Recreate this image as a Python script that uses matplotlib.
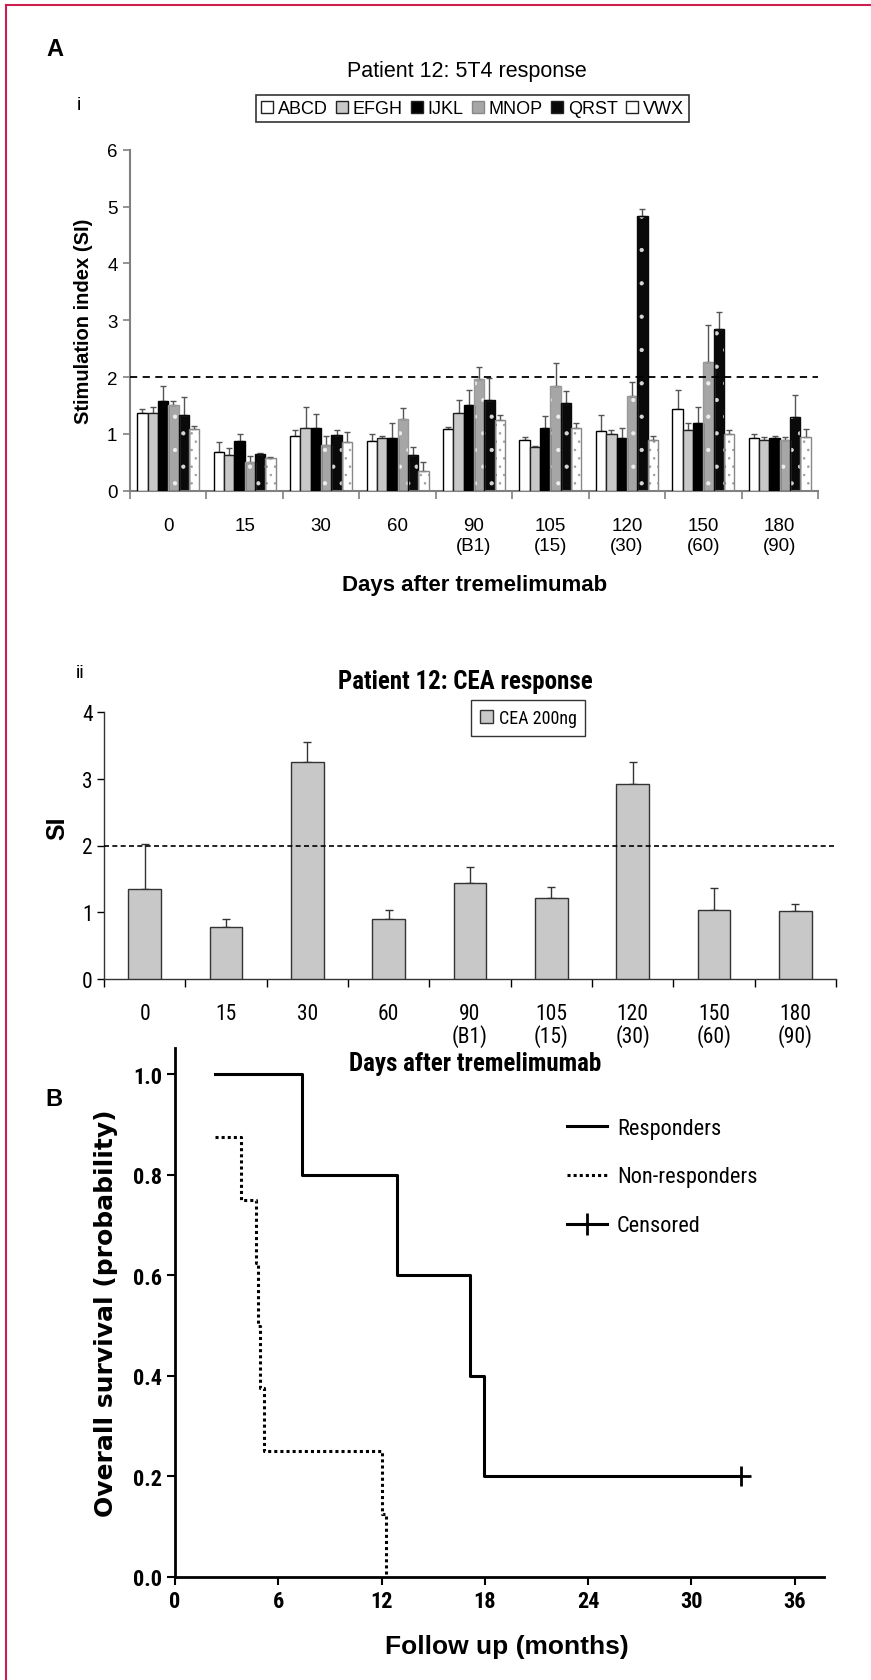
import matplotlib
matplotlib.use("Agg")
import matplotlib.pyplot as plt
import numpy as np
from matplotlib.patches import Patch
from matplotlib.lines import Line2D
from matplotlib import font_manager as fm

# ---------------- data ----------------
days = ["0", "15", "30", "60", "90\n(B1)", "105\n(15)", "120\n(30)", "150\n(60)", "180\n(90)"]
series_names = ["ABCD", "EFGH", "IJKL", "MNOP", "QRST", "VWX"]
abcd = [1.36, 0.68, 0.97, 0.87, 1.08, 0.89, 1.05, 1.44, 0.93]
efgh = [1.36, 0.63, 1.11, 0.93, 1.36, 0.77, 0.99, 1.06, 0.90]
ijkl = [1.57, 0.87, 1.11, 0.93, 1.51, 1.10, 0.92, 1.19, 0.92]
mnop = [1.50, 0.51, 0.81, 1.26, 1.97, 1.84, 1.67, 2.27, 0.89]
qrst = [1.34, 0.64, 0.98, 0.62, 1.60, 1.54, 4.84, 2.84, 1.30]
vwx = [1.09, 0.58, 0.85, 0.35, 1.25, 1.11, 0.89, 0.99, 0.95]
abcd_err = [0.07, 0.17, 0.09, 0.12, 0.04, 0.06, 0.28, 0.33, 0.06]
efgh_err = [0.11, 0.13, 0.36, 0.03, 0.23, 0.02, 0.08, 0.14, 0.05]
ijkl_err = [0.27, 0.12, 0.24, 0.26, 0.27, 0.21, 0.18, 0.28, 0.05]
mnop_err = [0.08, 0.10, 0.15, 0.20, 0.20, 0.41, 0.24, 0.65, 0.05]
qrst_err = [0.31, 0.02, 0.09, 0.15, 0.38, 0.21, 0.12, 0.31, 0.39]
vwx_err = [0.05, 0.01, 0.18, 0.16, 0.09, 0.09, 0.08, 0.08, 0.13]

cea = [1.35, 0.78, 3.245, 0.90, 1.435, 1.21, 2.92, 1.04, 1.02]
cea_err = [0.67, 0.12, 0.30, 0.14, 0.24, 0.17, 0.325, 0.325, 0.105]

resp_t = [2.3, 7.35, 12.9, 17.15, 17.95, 32.9]
resp_s = [1.0, 0.8, 0.6, 0.4, 0.2, 0.2]
nonresp_t = [2.3, 3.85, 4.7, 4.8, 4.95, 5.15, 12.05, 12.25]
nonresp_s = [0.875, 0.75, 0.625, 0.5, 0.375, 0.25, 0.125, 0.0]
censor_t = [32.9]
censor_s = [0.2]

# ---------------- fonts ----------------
plt.rcParams['font.family'] = ['Liberation Sans', 'DejaVu Sans']
plt.rcParams['hatch.linewidth'] = 0.6

_narrow = None
_prio = ['Liberation Sans Narrow', 'Arial Narrow', 'Roboto Condensed', 'Open Sans Condensed',
         'Noto Sans Condensed', 'DejaVu Sans Condensed']
_names = {f.name for f in fm.fontManager.ttflist}
for c in _prio:
    if c in _names:
        _narrow = dict(family=[c, 'DejaVu Sans'], stretch='normal')
        break
if _narrow is None:
    for pref in ['Roboto', 'Noto Sans', 'Open Sans', 'DejaVu Sans']:
        hits = [f for f in fm.fontManager.ttflist if f.name == pref and
                str(f.stretch) in ('condensed', 'semi-condensed', '87.5', '75')]
        if hits:
            _narrow = dict(family=[pref, 'DejaVu Sans'], stretch=hits[0].stretch)
            break
HAVE_NARROW = _narrow is not None
if not HAVE_NARROW:
    _narrow = dict(family=['Liberation Sans', 'DejaVu Sans'], stretch='normal')
NS = 1.0 if HAVE_NARROW else 0.88   # size factor for narrow texts


def nkw(size, weight='normal'):
    return dict(family=_narrow['family'], fontstretch=_narrow['stretch'],
                fontsize=size * NS, fontweight=weight)


def nprop(size, weight='normal'):
    return fm.FontProperties(family=_narrow['family'], stretch=_narrow['stretch'],
                             size=size * NS, weight=weight)


# ---------------- figure ----------------
W, H = 871, 1681
fig = plt.figure(figsize=(W / 100, H / 100), dpi=100)


def ax_px(l, t, r, b):
    return fig.add_axes([l / W, 1 - b / H, (r - l) / W, (b - t) / H])


# border
fig.add_artist(Line2D([6 / W, 6 / W], [0, 1 - 6 / H], color='#cc1f4f', lw=1.5))
fig.add_artist(Line2D([6 / W, 1], [1 - 6 / H, 1 - 6 / H], color='#cc1f4f', lw=1.5))

fig.text(55 / W, 1 - 50 / H, "A", fontsize=17, fontweight='bold', ha='center', va='center')
fig.text(79 / W, 1 - 106 / H, "i", fontsize=14, ha='center', va='center')
fig.text(467 / W, 1 - 72 / H, "Patient 12: 5T4 response", fontsize=15.5, ha='center', va='center')

# ---------------- panel A i ----------------
ax1 = ax_px(130, 150.7, 818, 491.7)
x = np.arange(len(days))
w = 0.135
vals = [abcd, efgh, ijkl, mnop, qrst, vwx]
errs = [abcd_err, efgh_err, ijkl_err, mnop_err, qrst_err, vwx_err]
styles = [
    dict(face='white', edge='black', hatch=None, hcol=None),
    dict(face='#c8c8c8', edge='#222222', hatch=None, hcol=None),
    dict(face='black', edge='black', hatch=None, hcol=None),
    dict(face='#a6a6a6', edge='#9a9a9a', hatch='.', hcol='#eeeeee'),
    dict(face='#0a0a0a', edge='#0a0a0a', hatch='.', hcol='#d8d8d8'),
    dict(face='white', edge='#888888', hatch='..', hcol='#a0a0a0'),
]
handles = []
for k, (v, e, st) in enumerate(zip(vals, errs, styles)):
    pos = x + (k - 2.5) * w
    if st['hatch']:
        ax1.bar(pos, v, w, color=st['face'], edgecolor=st['hcol'], hatch=st['hatch'], lw=0, zorder=2)
        ax1.bar(pos, v, w, fill=False, edgecolor=st['edge'], lw=1.0, zorder=3)
    else:
        ax1.bar(pos, v, w, color=st['face'], edgecolor=st['edge'], lw=1.0, zorder=3)
    ax1.errorbar(pos, v, yerr=[np.zeros(len(v)), e], fmt='none', ecolor='#555555',
                 elinewidth=1.0, capsize=2.5, capthick=1.0, zorder=2)
    handles.append(Patch(facecolor=st['face'], edgecolor='#222222' if k != 3 else '#888888', lw=1.0))

ax1.axhline(2, color='black', ls=(0, (4, 3)), lw=1.3, zorder=4)
ax1.set_xlim(-0.5, len(days) - 0.5)
ax1.set_ylim(0, 6)
for s in ['top', 'right']:
    ax1.spines[s].set_visible(False)
for s in ['left', 'bottom']:
    ax1.spines[s].set_color('#808080')
    ax1.spines[s].set_linewidth(1.5)
ax1.set_yticks(range(0, 7))
ax1.tick_params(axis='y', direction='out', length=5, width=1.2, color='#808080', labelsize=13.5, pad=4)
ax1.set_xticks(x)
ax1.set_xticklabels(days, fontsize=13.5, linespacing=1.2)
ax1.set_xticks(np.arange(-0.5, len(days)), minor=True)
ax1.tick_params(axis='x', which='major', length=0, pad=19)
ax1.tick_params(axis='x', which='minor', length=6, width=1.2, color='#808080')
ax1.set_ylabel("Stimulation index (SI)", fontsize=14.5, fontweight='bold', labelpad=10)
fig.text(475 / W, 1 - 585 / H, "Days after tremelimumab", fontsize=16, fontweight='bold',
         ha='center', va='center')

leg = fig.legend(handles, series_names, loc='center', bbox_to_anchor=(472.5 / W, 1 - 109.5 / H),
                 ncol=6, fontsize=13, frameon=True, fancybox=False, handlelength=0.65,
                 handleheight=0.65, handletextpad=0.28, columnspacing=0.45, borderpad=0.3,
                 borderaxespad=0)
leg.get_frame().set_edgecolor('black')
leg.get_frame().set_linewidth(1.2)

# ---------------- panel A ii ----------------
fig.text(80 / W, 1 - 674 / H, "ii", fontsize=14, ha='center', va='center')
fig.text(465 / W, 1 - 682 / H, "Patient 12: CEA response", ha='center', va='center',
         **nkw(18, 'bold'))
ax2 = ax_px(104, 713, 836, 980)
ax2.bar(x, cea, 0.4, color='#c8c8c8', edgecolor='#333333', lw=1.0, zorder=3, label="CEA 200ng")
ax2.errorbar(x, cea, yerr=[np.zeros(len(cea)), cea_err], fmt='none', ecolor='#333333',
             elinewidth=1.0, capsize=3, capthick=1.0, zorder=2)
ax2.axhline(2, color='black', ls=(0, (3, 2)), lw=1.2, zorder=4)
ax2.set_xlim(-0.5, len(days) - 0.5)
ax2.set_ylim(0, 4)
for s in ['top', 'right']:
    ax2.spines[s].set_visible(False)
for s in ['left', 'bottom']:
    ax2.spines[s].set_color('#333333')
    ax2.spines[s].set_linewidth(1.0)
ax2.set_yticks(range(0, 5))
ax2.tick_params(axis='y', direction='out', length=5, width=1.0, pad=3)
ax2.set_xticks(x)
ax2.set_xticklabels(days, linespacing=1.0)
for lab in ax2.get_xticklabels() + ax2.get_yticklabels():
    lab.set_fontproperties(nprop(15.5))
ax2.set_xticks(np.arange(-0.5, len(days)), minor=True)
ax2.tick_params(axis='x', which='major', length=0, pad=17)
ax2.tick_params(axis='x', which='minor', length=6, width=1.0)
fig.text(57 / W, 1 - 828 / H, "SI", rotation=90, fontsize=18, fontweight='bold',
         ha='center', va='center')
fig.text(475 / W, 1 - 1064 / H, "Days after tremelimumab", ha='center', va='center',
         **nkw(18, 'bold'))
leg2 = ax2.legend(loc='center', bbox_to_anchor=((528 - 104) / (836 - 104), (980 - 719) / (980 - 713)),
                  frameon=True, fancybox=False, handlelength=0.75, handleheight=0.75,
                  handletextpad=0.3, borderpad=0.5, prop=nprop(13))
leg2.get_frame().set_edgecolor('black')
leg2.get_frame().set_linewidth(1.0)

# ---------------- panel B ----------------
fig.text(54 / W, 1 - 1100 / H, "B", fontsize=17, fontweight='bold', ha='center', va='center')
ax3 = ax_px(175, 1049, 824, 1578)
ax3.step(resp_t, resp_s, where='post', color='black', lw=2.2, label='Responders')
ax3.step(nonresp_t, nonresp_s, where='post', color='black', lw=2.2, ls=(0, (1, 1)),
         label='Non-responders')
ax3.plot(censor_t, censor_s, ls='none', marker='+', ms=14, mew=2, color='black')
ax3.set_xlim(0, 37.7)
ax3.set_ylim(0, 1.052)
for s in ['top', 'right']:
    ax3.spines[s].set_visible(False)
for s in ['left', 'bottom']:
    ax3.spines[s].set_linewidth(2.0)
ax3.set_xticks(range(0, 37, 6))
ax3.set_yticks([0, 0.2, 0.4, 0.6, 0.8, 1.0])
ax3.set_yticklabels(["0.0", "0.2", "0.4", "0.6", "0.8", "1.0"])
ax3.tick_params(direction='out', length=6, width=1.5)
for lab in ax3.get_xticklabels() + ax3.get_yticklabels():
    lab.set_fontproperties(nprop(16, 'bold'))
ax3.set_ylabel("Overall survival (probability)", fontsize=18, fontweight='bold',
               family=['DejaVu Sans'], labelpad=11)
fig.text(507 / W, 1 - 1647 / H, "Follow up (months)", fontsize=19, fontweight='bold',
         ha='center', va='center')
kh = [Line2D([], [], color='black', lw=2.2),
      Line2D([], [], color='black', lw=2.2, ls=(0, (1, 1))),
      Line2D([], [], color='black', lw=2.2, marker='+', ms=16, mew=2)]
ax3.legend(kh, ['Responders', 'Non-responders', 'Censored'], loc='center left',
           bbox_to_anchor=((567 - 175) / (824 - 175), (1578 - 1178) / (1578 - 1049)),
           frameon=False, handlelength=1.8, handletextpad=0.45, labelspacing=1.25,
           borderpad=0, borderaxespad=0, prop=nprop(16))

fig.savefig("out.png", dpi=100)
